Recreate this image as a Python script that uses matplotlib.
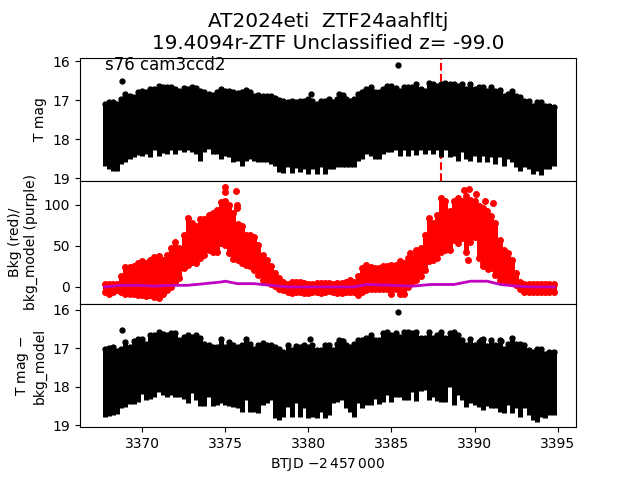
#!/usr/bin/env python3
import numpy as np
import matplotlib
matplotlib.use("Agg")
import matplotlib.pyplot as plt

#--values, one envelope value per time step
times = [3367.75, 3368.0, 3368.25, 3368.5, 3368.75, 3369.0, 3369.25, 3369.5, 3369.75, 3370.0,
         3370.25, 3370.5, 3370.75, 3371.0, 3371.25, 3371.5, 3371.75, 3372.0, 3372.25, 3372.5,
         3372.75, 3373.0, 3373.25, 3373.5, 3373.75, 3374.0, 3374.25, 3374.5, 3374.75, 3375.0,
         3375.25, 3375.5, 3375.75, 3376.0, 3376.25, 3376.5, 3376.75, 3377.0, 3377.25, 3377.5,
         3377.75, 3378.0, 3378.25, 3378.5, 3378.75, 3379.0, 3379.25, 3379.5, 3379.75, 3380.0,
         3380.25, 3380.5, 3380.75, 3381.0, 3381.25, 3381.5, 3381.75, 3382.0, 3382.25, 3382.5,
         3382.75, 3383.0, 3383.25, 3383.5, 3383.75, 3384.0, 3384.25, 3384.5, 3384.75, 3385.0,
         3385.25, 3385.5, 3385.75, 3386.0, 3386.25, 3386.5, 3386.75, 3387.0, 3387.25, 3387.5,
         3387.75, 3388.0, 3388.25, 3388.5, 3388.75, 3389.0, 3389.25, 3389.5, 3389.75, 3390.0,
         3390.25, 3390.5, 3390.75, 3391.0, 3391.25, 3391.5, 3391.75, 3392.0, 3392.25, 3392.5,
         3392.75, 3393.0, 3393.25, 3393.5, 3393.75, 3394.0, 3394.25, 3394.5, 3394.75]

tmag_bright = [17.04, 17.00, 17.00, 17.04, 16.91, 16.78, 16.83, 16.87, 16.74, 16.70,
               16.74, 16.66, 16.66, 16.57, 16.60, 16.61, 16.61, 16.66, 16.70, 16.63,
               16.66, 16.61, 16.63, 16.70, 16.74, 16.78, 16.81, 16.74, 16.66, 16.70,
               16.70, 16.74, 16.77, 16.74, 16.68, 16.74, 16.85, 16.80, 16.83, 16.85,
               16.83, 16.89, 16.94, 16.96, 17.00, 16.97, 17.00, 16.96, 16.96, 16.91,
               16.96, 17.04, 16.96, 16.96, 16.91, 17.00, 16.91, 16.85, 16.91, 16.96,
               16.91, 16.78, 16.74, 16.66, 16.60, 16.74, 16.74, 16.66, 16.57, 16.57,
               16.63, 16.70, 16.60, 16.60, 16.61, 16.54, 16.66, 16.70, 16.51, 16.54,
               16.57, 16.53, 16.51, 16.53, 16.53, 16.57, 16.54, 16.66, 16.54, 16.66,
               16.60, 16.61, 16.70, 16.61, 16.70, 16.68, 16.83, 16.78, 16.70, 16.83,
               16.87, 16.96, 16.96, 17.09, 17.00, 17.00, 17.09, 17.09, 17.13]
tmag_faint = [18.68, 18.77, 18.81, 18.81, 18.64, 18.58, 18.52, 18.46, 18.40, 18.42,
              18.38, 18.46, 18.27, 18.42, 18.35, 18.38, 18.29, 18.38, 18.29, 18.34,
              18.29, 18.34, 18.38, 18.55, 18.34, 18.25, 18.38, 18.38, 18.52, 18.42,
              18.46, 18.58, 18.55, 18.68, 18.55, 18.52, 18.55, 18.58, 18.59, 18.59,
              18.64, 18.68, 18.85, 18.87, 18.72, 18.87, 18.75, 18.85, 18.77, 18.90,
              18.77, 18.90, 18.72, 18.90, 18.77, 18.77, 18.72, 18.72, 18.72, 18.72,
              18.72, 18.55, 18.52, 18.38, 18.42, 18.51, 18.52, 18.38, 18.34, 18.34,
              18.29, 18.42, 18.29, 18.42, 18.29, 18.40, 18.29, 18.38, 18.27, 18.38,
              18.29, 18.46, 18.29, 18.46, 18.42, 18.55, 18.34, 18.51, 18.55, 18.42,
              18.59, 18.42, 18.59, 18.46, 18.64, 18.46, 18.68, 18.51, 18.59, 18.72,
              18.81, 18.72, 18.77, 18.90, 18.81, 18.92, 18.77, 18.77, 18.68]
tmag_x = [3368.81, 3380.16, 3385.38, 3381.83, 3382.1]
tmag_y = [16.51, 16.83, 16.10, 16.83, 16.87]

bkg_high = [4, 4, 4, 4, 13, 24, 24, 26, 29, 32,
            29, 33, 36, 38, 33, 39, 47, 55, 47, 63,
            84, 78, 74, 82, 83, 87, 90, 94, 103, 104,
            100, 90, 76, 74, 63, 63, 61, 51, 39, 33,
            25, 17, 11, 6, 4, 6, 6, 6, 5, 4,
            4, 5, 5, 5, 5, 4, 5, 5, 6, 9,
            6, 13, 23, 27, 24, 23, 23, 25, 26, 27,
            27, 31, 29, 35, 35, 45, 47, 63, 84, 78,
            88, 108, 104, 92, 104, 108, 104, 110, 106, 104,
            98, 96, 92, 86, 78, 57, 45, 41, 33, 17,
            6, 4, 4, 4, 4, 4, 4, 4, 4]
bkg_low = [-6, -8, -6, -4, -6, -8, -8, -8, -10, -10,
           -11, -10, -12, -13, -8, -4, 0, 6, 11, 23,
           27, 30, 29, 35, 39, 45, 43, 43, 53, 51,
           41, 34, 33, 29, 27, 25, 21, 15, 9, 6,
           4, 1, -2, -4, -6, -7, -6, -6, -7, -7,
           -6, -6, -7, -6, -5, -6, -7, -7, -6, -6,
           -6, -10, -6, -4, -2, -2, -2, -2, -2, -8,
           -2, -8, -8, 0, 6, 9, 13, 21, 31, 33,
           35, 43, 45, 45, 57, 53, 59, 43, 55, 61,
           35, 29, 27, 23, 15, 9, 6, 9, 6, 2,
           -2, -6, -6, -6, -6, -6, -6, -6, -6]
bkg_x = [3375.02, 3375.02, 3375.68, 3375.7, 3375.7, 3389.36, 3389.66, 3390.06, 3390.6, 3391.1,
         3386.1, 3389.6, 3390.5, 3390.8]
bkg_y = [122, 115, 117, 100, 96, 118, 119, 113, 104, 102, 41, 33, 26, 22]

model_t = [3367.75, 3368.75, 3369.75, 3370.75, 3371.75, 3372.75, 3373.75, 3374.75, 3375.0, 3375.75,
           3376.75, 3377.75, 3378.75, 3380.0, 3382.7, 3383.5, 3385.0, 3386.3, 3387.35, 3388.76,
           3389.76, 3390.76, 3391.57, 3392.5, 3393.5, 3394.8]
model_y = [0, 2, 2, 1, 2, 2, 4, 6, 7, 4,
           4, 2, 0, 0, 0, 3, 2, 1, 3, 3,
           7, 7, 3, 1, 0, 0]

corr_bright = [16.96, 16.94, 16.91, 17.02, 16.97, 16.78, 16.91, 16.76, 16.71, 16.71,
               16.83, 16.61, 16.61, 16.52, 16.59, 16.61, 16.56, 16.56, 16.74, 16.65,
               16.61, 16.65, 16.61, 16.69, 16.83, 16.87, 16.91, 16.91, 16.71, 16.91,
               16.78, 16.87, 16.91, 16.87, 16.71, 16.83, 16.96, 16.87, 16.80, 16.87,
               16.87, 16.91, 16.96, 17.04, 16.87, 17.00, 16.89, 16.91, 16.87, 16.91,
               16.87, 17.00, 17.00, 16.87, 16.87, 17.00, 16.85, 16.76, 16.87, 16.91,
               16.83, 16.74, 16.74, 16.68, 16.61, 16.74, 16.74, 16.56, 16.54, 16.61,
               16.56, 16.65, 16.54, 16.52, 16.56, 16.52, 16.68, 16.69, 16.52, 16.68,
               16.61, 16.54, 16.68, 16.56, 16.54, 16.61, 16.74, 16.87, 16.71, 16.87,
               16.78, 16.71, 16.89, 16.74, 16.87, 16.74, 16.96, 16.83, 16.69, 16.83,
               16.83, 16.87, 17.00, 17.04, 16.96, 16.96, 17.09, 17.04, 17.04]
corr_faint = [18.78, 18.76, 18.73, 18.71, 18.56, 18.52, 18.45, 18.45, 18.39, 18.19,
              18.34, 18.33, 18.26, 18.13, 18.21, 18.26, 18.21, 18.26, 18.26, 18.33,
              18.43, 18.17, 18.34, 18.50, 18.50, 18.26, 18.50, 18.47, 18.43, 18.47,
              18.50, 18.53, 18.56, 18.65, 18.34, 18.65, 18.65, 18.69, 18.47, 18.43,
              18.34, 18.82, 18.85, 18.78, 18.52, 18.78, 18.43, 18.78, 18.56, 18.82,
              18.78, 18.82, 18.65, 18.82, 18.73, 18.43, 18.39, 18.34, 18.56, 18.65,
              18.78, 18.43, 18.56, 18.47, 18.47, 18.33, 18.45, 18.39, 18.21, 18.39,
              18.26, 18.27, 18.34, 18.34, 18.13, 18.36, 18.10, 18.08, 18.34, 18.26,
              18.36, 18.39, 18.39, 18.00, 18.47, 18.21, 18.34, 18.52, 18.43, 18.47,
              18.52, 18.60, 18.50, 18.56, 18.56, 18.65, 18.69, 18.47, 18.69, 18.56,
              18.78, 18.56, 18.73, 18.87, 18.91, 18.78, 18.82, 18.73, 18.73]
corr_x = [3368.81, 3380.12, 3385.38, 3381.85, 3382.1, 3390.4, 3391.57]
corr_y = [16.53, 16.76, 16.06, 16.78, 16.80, 16.78, 16.80]

event_t = 3387.96
dot_inset = 0.05 # the bright envelope was read at the outer edge of the dots

fig, axs = plt.subplots(3, 1, sharex=True)
plt.subplots_adjust(hspace=0)

#--top panel
ax = axs[0]
ax.set_title("AT2024eti  ZTF24aahfltj\n19.4094r-ZTF Unclassified z= -99.0", fontsize=14.4)
ax.axvline(event_t, color="r", linestyle="--", zorder=1)
ax.vlines(times, tmag_bright, tmag_faint, color="k", lw=3.6, zorder=2)
ax.plot(times, np.array(tmag_bright) + dot_inset, "k.", ms=7, zorder=2)
ax.plot(tmag_x, tmag_y, "k.", ms=7, zorder=3)
ax.set_ylim(19.07, 15.9)
ax.set_yticks([16, 17, 18, 19])
ax.set_ylabel("T mag")
ax.text(0.05, 0.9, "s76 cam3ccd2", transform=ax.transAxes, fontsize=12)

#--middle panel
ax = axs[1]
ax.vlines(times, bkg_low, bkg_high, color="r", lw=3.6, zorder=2)
ax.plot(times, bkg_high, "r.", ms=8, zorder=2)
ax.plot(times, bkg_low, "r.", ms=8, zorder=2)
ax.plot(bkg_x, bkg_y, "r.", ms=8, zorder=2)
ax.plot(model_t, model_y, color="m", lw=2, zorder=3)
ax.set_ylim(-20.7, 129)
ax.set_yticks([0, 50, 100])
ax.set_ylabel("Bkg (red)/\nbkg_model (purple)")

#--bottom panel
ax = axs[2]
ax.vlines(times, corr_bright, corr_faint, color="k", lw=3.6, zorder=2)
ax.plot(times, np.array(corr_bright) + dot_inset, "k.", ms=7, zorder=2)
ax.plot(corr_x, corr_y, "k.", ms=7, zorder=3)
ax.set_ylim(19.05, 15.85)
ax.set_yticks([16, 17, 18, 19])
ax.set_ylabel("T mag $-$\nbkg_model")
ax.set_xlabel("BTJD $-2\\,457\\,000$")
ax.set_xlim(3366.27, 3396.1)
ax.set_xticks([3370, 3375, 3380, 3385, 3390, 3395])

fig.savefig("out.png", dpi=100)
